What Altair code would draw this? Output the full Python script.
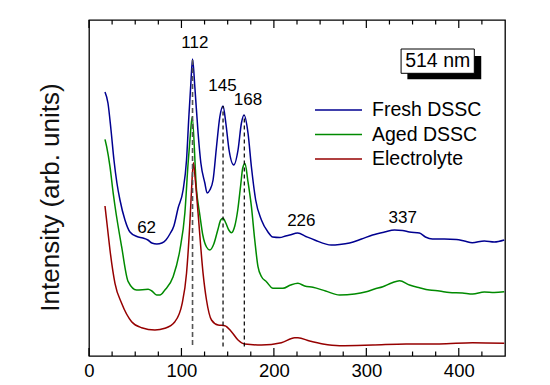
import altair as alt
import pandas as pd

# ---------------- data ----------------
series_names = ["Fresh DSSC", "Aged DSSC", "Electrolyte"]
series_colors = ["#000090", "#008a00", "#960000"]

fresh_x = [17.3, 20.5, 23.8, 27.0, 30.2, 33.5, 38.9, 44.3, 51.8, 58.3, 63.7, 68.0, 73.4, 78.8,
           83.2, 87.5, 91.8, 96.4, 101.8, 105.5, 108.0, 110.2, 112.0, 114.5, 118.0, 121.0,
           125.3, 127.8, 130.7, 134.2, 137.9, 141.5, 145.0, 148.0, 151.5, 156.6, 161.2, 164.9,
           167.7, 172.0, 175.7, 180.3, 186.5, 193.6, 198.7, 206.3, 212.7, 217.1, 225.7, 235.1,
           244.1, 262.1, 271.1, 281.9, 294.8, 306.7, 319.7, 330.5, 339.1, 346.6, 357.4, 363.9,
           371.5, 384.4, 397.4, 406.0, 414.6, 427.6, 438.4, 449.2]
fresh_y = [264, 253, 226, 196, 173, 156, 136, 124, 119.5, 118, 116, 113, 112, 113,
           116, 122, 130, 148, 166, 196, 239, 273, 297, 269, 223, 193,
           173, 163, 166, 176, 209, 239, 250, 233, 206, 191, 206, 233,
           241, 223, 189, 156, 136, 124, 119, 118.5, 120, 121, 123, 119.3,
           116, 111, 111.5, 113, 117, 121, 124, 126, 125.5, 124, 123, 119,
           117, 117, 116.5, 115, 113.3, 115, 114, 116]

aged_x = [17.3, 19.1, 22.7, 26.2, 28.1, 35.3, 42.4, 51.5, 64.0, 68.0, 73.1, 76.7, 82.1, 91.0,
          98.3, 103.7, 107.2, 109.6, 111.6, 116.3, 119.9, 123.1, 127.1, 130.7, 135.0, 139.3,
          142.5, 145.0, 148.0, 151.2, 154.1, 157.7, 160.9, 164.1, 166.3, 168.8, 171.7, 175.7,
          179.3, 182.8, 186.8, 191.9, 199.0, 209.8, 218.1, 226.0, 233.3, 242.2, 255.9, 271.1,
          287.3, 299.9, 308.9, 317.8, 327.2, 335.9, 346.7, 357.5, 368.3, 379.0, 389.8, 403.9,
          415.0, 427.6, 438.4, 449.2]
aged_y = [216.7, 209.3, 189.3, 162.7, 150, 109.3, 74.3, 66, 66.7, 65, 61, 61, 66, 79.3,
          106, 143, 192.7, 221, 239.3, 166, 141, 121, 109, 106, 112, 126,
          136, 137.7, 133, 126, 123.3, 130, 146, 171, 188, 192.5, 176, 149.3,
          116, 89.3, 79, 74.3, 67.7, 67.7, 71, 72.7, 70, 68.7, 65, 61,
          62, 64.3, 67, 69.3, 73, 75.3, 71, 68.3, 66, 65, 63.5, 63,
          62, 64, 63.5, 64.3]

elec_x = [17.3, 20.0, 22.7, 28.1, 35.3, 46.1, 56.9, 71.3, 82.1, 92.9, 100.8, 105.5, 109.1,
          110.9, 112.9, 115.0, 118.0, 123.4, 127.1, 132.5, 139.6, 146.9, 154.1, 161.2, 168.5,
          186.5, 208.1, 222.5, 226.0, 238.7, 253.0, 271.1, 307.0, 343.1, 379.0, 415.0, 449.2]
elec_y = [150, 128, 106, 72.7, 52.7, 34.3, 28.3, 26, 27.7, 34.3, 52.7, 82.7, 133,
          166, 193.3, 176, 142.7, 82.7, 56, 36, 31, 30.3, 24.3, 16, 12,
          11, 13.3, 18.3, 18.3, 15, 12, 10.3, 11, 12, 12, 13.3, 12.7]

major_ticks = [0, 100, 200, 300, 400]
minor_ticks = [25, 50, 75, 125, 150, 175, 225, 250, 275, 325, 350, 375, 425]

peak_x = [112, 145, 168]
peak_top = [297, 250, 241]
peak_bottom = [11, 9.5, 9.5]
peak_kind = ["a", "b", "b"]

ann_text = ["112", "145", "168", "62", "226", "337"]
ann_x = [114.5, 144.4, 172.0, 62.3, 229.7, 339.4]
ann_y = [313, 270, 256, 128.3, 135, 137.7]

laser_text = ["514 nm"]
box_x = [337.6, 416.8]
box_y = [282.7, 307.0]
shadow_x = [344.4, 424.3]
shadow_y = [276.7, 300.0]

FONT = "Liberation Sans"

# ---------------- tables ----------------
rows = []
for name, xs, ys in [(series_names[0], fresh_x, fresh_y),
                     (series_names[1], aged_x, aged_y),
                     (series_names[2], elec_x, elec_y)]:
    for a, b in zip(xs, ys):
        rows.append({"series": name, "shift": a, "intensity": b})
spec_df = pd.DataFrame(rows)

peaks_df = pd.DataFrame({"x": peak_x, "top": peak_top, "bottom": peak_bottom, "kind": peak_kind})
ann_df = pd.DataFrame({"t": ann_text, "x": ann_x, "y": ann_y})
major_df = pd.DataFrame({"x": major_ticks})
minor_df = pd.DataFrame({"x": minor_ticks})
box_df = pd.DataFrame({"x": [box_x[0]], "x2": [box_x[1]], "y": [box_y[0]], "y2": [box_y[1]],
                       "t": laser_text, "xc": [(box_x[0] + box_x[1]) / 2],
                       "yc": [(box_y[0] + box_y[1]) / 2]})
shadow_df = pd.DataFrame({"x": [shadow_x[0]], "x2": [shadow_x[1]],
                          "y": [shadow_y[0]], "y2": [shadow_y[1]]})

xscale = alt.Scale(domain=[0, 450], nice=False, zero=False)
yscale = alt.Scale(domain=[0, 336], nice=False, zero=False)

xaxis = alt.Axis(values=major_ticks, ticks=False, domain=False, grid=False,
                 labelFontSize=18.5, labelPadding=5.5, labelFlush=False,
                 labelFont=FONT, labelColor="black", title=None)
yaxis = alt.Axis(labels=False, ticks=False, domain=False, grid=False,
                 title="Intensity (arb. units)", titleFont=FONT, titleFontSize=26,
                 titleFontWeight="normal", titleColor="#111111",
                 titleX=-39, titleY=177, titleBaseline="middle", titleAngle=270)

lines = alt.Chart(spec_df).mark_line(strokeWidth=1.5, interpolate="monotone").encode(
    x=alt.X("shift:Q", scale=xscale, axis=xaxis),
    y=alt.Y("intensity:Q", scale=yscale, axis=yaxis),
    color=alt.Color("series:N",
                    scale=alt.Scale(domain=series_names, range=series_colors),
                    legend=alt.Legend(title=None, orient="none", legendX=225, legendY=80,
                                      symbolType="stroke", symbolSize=2209,
                                      symbolStrokeWidth=1.6, labelFontSize=19.5,
                                      labelFont=FONT, labelColor="black", clipHeight=20,
                                      rowPadding=4.5, labelOffset=9, padding=0,
                                      labelLimit=300)),
    order=alt.Order("shift:Q"),
)

peak_a = alt.Chart(peaks_df).transform_filter("datum.kind == 'a'").mark_rule(
    color="#555555", strokeWidth=1.6, strokeDash=[5, 3]).encode(
    x="x:Q", y="bottom:Q", y2="top:Q")
peak_b = alt.Chart(peaks_df).transform_filter("datum.kind == 'b'").mark_rule(
    color="black", strokeWidth=1.2, strokeDash=[4, 3]).encode(
    x="x:Q", y="bottom:Q", y2="top:Q")

tick_style = dict(color="black", strokeWidth=1.2)
maj_bot = alt.Chart(major_df).mark_rule(**tick_style).encode(
    x="x:Q", y=alt.value(336), y2=alt.value(328))
maj_top = alt.Chart(major_df).mark_rule(**tick_style).encode(
    x="x:Q", y=alt.value(0), y2=alt.value(8))
min_bot = alt.Chart(minor_df).mark_rule(**tick_style).encode(
    x="x:Q", y=alt.value(336), y2=alt.value(331.5))
min_top = alt.Chart(minor_df).mark_rule(**tick_style).encode(
    x="x:Q", y=alt.value(0), y2=alt.value(4.5))

ann = alt.Chart(ann_df).mark_text(font=FONT, fontSize=17, color="black",
                                  baseline="middle", align="center").encode(
    x="x:Q", y="y:Q", text="t:N")

shadow = alt.Chart(shadow_df).mark_rect(color="black").encode(
    x="x:Q", x2="x2:Q", y="y:Q", y2="y2:Q")
box = alt.Chart(box_df).mark_rect(fill="white", stroke="black", strokeWidth=1).encode(
    x="x:Q", x2="x2:Q", y="y:Q", y2="y2:Q")
box_text = alt.Chart(box_df).mark_text(font=FONT, fontSize=19.5, color="black",
                                       baseline="middle", align="center").encode(
    x="xc:Q", y="yc:Q", text="t:N")

chart = alt.layer(lines, peak_a, peak_b, maj_bot, maj_top, min_bot, min_top,
                  ann, shadow, box, box_text).properties(
    width=416, height=336,
    autosize=alt.AutoSizeParams(type="none"),
    padding={"left": 81, "top": 12, "right": 30, "bottom": 28},
).configure(font=FONT).configure_view(stroke="black", strokeWidth=1.3)

chart.save("out.html", embed_options={"renderer": "svg", "actions": False})
